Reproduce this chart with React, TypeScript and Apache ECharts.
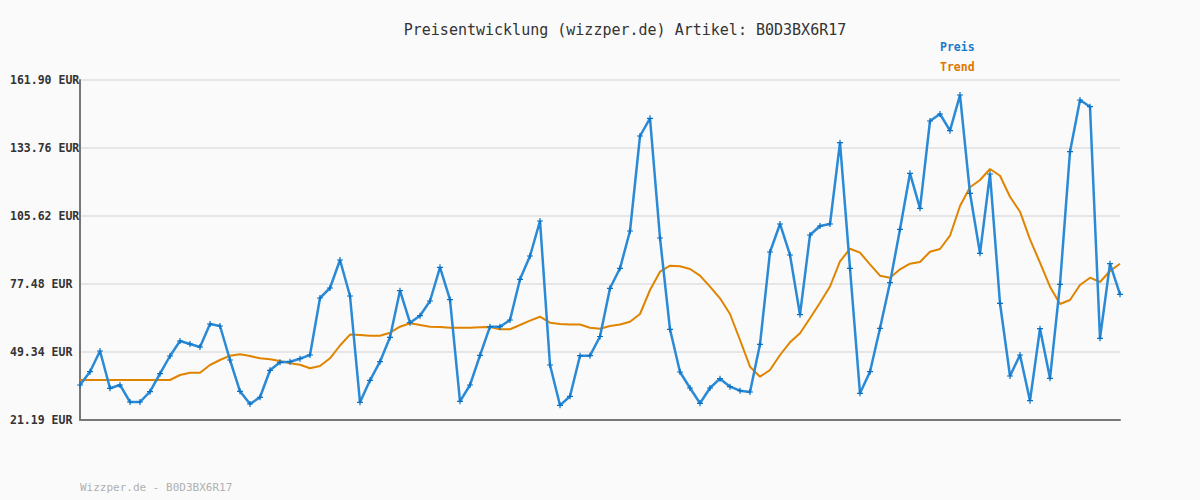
import React, { useEffect, useRef } from "react";
import * as echarts from "echarts";

const titleText = "Preisentwicklung (wizzper.de) Artikel: B0D3BX6R17";
const footerText = "Wizzper.de - B0D3BX6R17";
const yMin = 21.19;
const yMax = 161.9;
const yTicks = [21.19, 49.34, 77.48, 105.62, 133.76, 161.9];

const preis = [
  35.68, 41.18, 49.75, 34.31, 35.68, 28.64, 28.64, 32.9, 40.35, 47.68,
  53.88, 52.64, 51.4, 60.92, 60.09, 46.02, 33.07, 27.81, 30.59, 41.76,
  45.07, 45.32, 46.56, 48.09, 71.68, 75.82, 87.41, 72.51, 28.52, 37.62,
  45.32, 55.42, 74.7, 61.46, 64.36, 70.44, 84.39, 70.98, 28.93, 35.68,
  47.97, 59.8, 59.8, 62.58, 79.42, 89.06, 103.55, 43.95, 27.27, 31.0,
  47.8, 47.8, 55.75, 75.69, 83.97, 99.41, 138.72, 146.05, 96.51, 58.73,
  41.05, 34.43, 28.1, 34.43, 38.28, 34.97, 33.32, 32.78, 52.52, 90.72,
  102.31, 89.48, 64.77, 97.75, 101.48, 102.31, 135.95, 83.97, 32.24, 41.18,
  59.14, 78.01, 100.11, 123.29, 108.8, 144.93, 147.83, 140.92, 155.69, 115.01,
  90.18, 123.0, 69.49, 39.4, 48.09, 29.18, 58.97, 38.45, 77.35, 132.23,
  153.62, 150.85, 55.0, 85.88, 73.21,
];

const trend = [
  37.74, 37.74, 37.74, 37.74, 37.74, 37.74, 37.74, 37.74, 37.74, 37.74,
  39.81, 40.77, 40.77, 43.95, 46.02, 47.8, 48.38, 47.68, 46.72, 46.31,
  45.61, 44.65, 44.08, 42.59, 43.54, 46.72, 52.02, 56.53, 56.37, 56.08,
  56.08, 57.32, 59.8, 61.21, 60.51, 59.8, 59.68, 59.39, 59.39, 59.39,
  59.55, 59.68, 58.73, 58.73, 60.51, 62.29, 63.94, 61.46, 60.92, 60.71,
  60.71, 59.39, 58.97, 60.09, 60.71, 61.87, 65.06, 74.99, 82.56, 85.05,
  84.8, 83.68, 80.91, 76.36, 71.56, 65.06, 54.3, 43.25, 39.11, 41.88,
  48.09, 53.35, 57.07, 63.28, 69.73, 76.44, 86.79, 92.08, 90.43, 85.63,
  80.91, 80.08, 83.56, 85.88, 86.58, 90.84, 91.96, 97.46, 109.75, 117.49,
  120.51, 125.07, 122.29, 113.6, 107.4, 95.97, 86.29, 76.36, 69.2, 70.85,
  77.06, 80.08, 78.3, 82.85, 85.88,
];

const categories = preis.map((_, i) => String(i + 1));

const plusSymbol =
  "path://M4,0 L6,0 L6,4 L10,4 L10,6 L6,6 L6,10 L4,10 L4,6 L0,6 L0,4 L4,4 Z";

export default function App() {
  const ref = useRef<HTMLDivElement>(null);
  useEffect(() => {
    document.body.style.margin = "0";
    const chart = echarts.init(ref.current!, null, { renderer: "svg" });
    chart.setOption({
      animation: false,
      backgroundColor: "#fafafa",
      textStyle: { fontFamily: "DejaVu Sans Mono" },
      grid: { left: 80, right: 80, top: 80, bottom: 80, containLabel: false },
      title: {
        text: titleText,
        left: 620,
        top: 17,
        textAlign: "center",
        textStyle: {
          fontFamily: "DejaVu Sans Mono",
          fontSize: 15,
          fontWeight: "normal",
          color: "#333",
        },
      },
      graphic: [
        {
          type: "text",
          left: 940,
          top: 41,
          style: {
            text: "Preis",
            fill: "#1a7acc",
            font: "bold 11.5px 'DejaVu Sans Mono'",
          },
        },
        {
          type: "text",
          left: 940,
          top: 61,
          style: {
            text: "Trend",
            fill: "#dd7700",
            font: "bold 11.5px 'DejaVu Sans Mono'",
          },
        },
        {
          type: "text",
          left: 80,
          top: 482,
          style: {
            text: footerText,
            fill: "#b0b0b0",
            font: "11px 'DejaVu Sans Mono'",
          },
        },
      ],
      xAxis: {
        type: "category",
        data: categories,
        boundaryGap: false,
        axisLine: { lineStyle: { color: "#777", width: 2 } },
        axisTick: { show: false },
        axisLabel: { show: false },
        splitLine: { show: false },
      },
      yAxis: {
        type: "value",
        min: yMin,
        max: yMax,
        interval: (yMax - yMin) / 5,
        axisLine: { show: true, lineStyle: { color: "#777", width: 2 } },
        axisTick: { show: false },
        splitLine: { show: true, lineStyle: { color: "#e6e6e6", width: 2 } },
        axisLabel: {
          align: "left",
          margin: 70,
          color: "#333",
          fontFamily: "DejaVu Sans Mono",
          fontWeight: "bold",
          fontSize: 11.5,
          formatter: (v: number) => {
            const nearest = yTicks.reduce((a, b) =>
              Math.abs(b - v) < Math.abs(a - v) ? b : a
            );
            return nearest.toFixed(2) + " EUR";
          },
        },
      },
      series: [
        {
          name: "Trend",
          type: "line",
          data: trend,
          symbol: "none",
          lineStyle: { color: "#e08400", width: 2 },
          z: 2,
        },
        {
          name: "Preis",
          type: "line",
          data: preis,
          symbol: plusSymbol,
          symbolSize: 6,
          itemStyle: { color: "#0a70c4" },
          lineStyle: { color: "#2a8ad6", width: 2.5 },
          z: 3,
        },
      ],
    });
    return () => chart.dispose();
  }, []);
  return <div ref={ref} style={{ width: 1200, height: 500 }} />;
}
